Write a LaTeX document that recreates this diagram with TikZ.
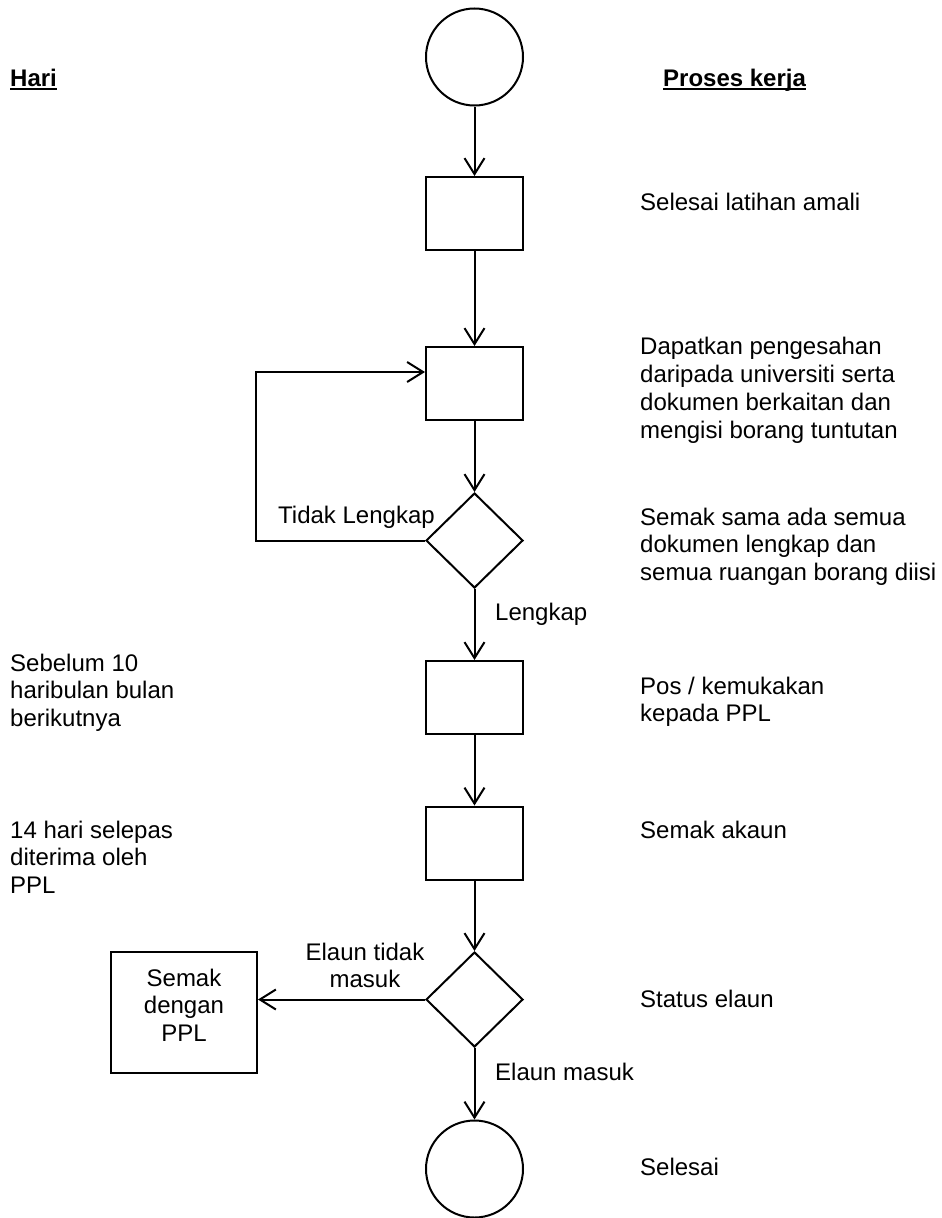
\documentclass[tikz,border=0pt]{standalone}
\usepackage{fontspec}
\setmainfont{Liberation Sans}
\usetikzlibrary{arrows.meta,shapes.geometric}
\newcommand\myul[1]{\setbox0\hbox{#1}\rlap{\rule[-3.5pt]{\wd0}{1.8pt}}\box0}
\tikzset{
  every node/.style={inner sep=0pt},
  lbl/.style={font=\fontsize{24}{27.7}\selectfont, align=left, anchor=base west},
  stepbox/.style={draw, line width=2pt, rectangle, minimum width=97pt, minimum height=73pt},
  decide/.style={draw, line width=2pt, diamond, minimum width=97pt, minimum height=95pt},
  term/.style={draw, line width=2pt, circle, minimum size=97pt},
  arr/.style={line width=2pt, -{Straight Barb[length=16pt,width=20pt]}}
}
\begin{document}
\begin{tikzpicture}[x=1pt,y=-1pt]
\useasboundingbox (0,0) rectangle (942,1218);
% headings
\node[lbl, font=\fontsize{24}{27.7}\selectfont\bfseries] (hari) at (10,86) {\myul{Hari}};
\node[lbl, font=\fontsize{24}{27.7}\selectfont\bfseries] (proses) at (663,86) {\myul{Proses kerja}};
% flow nodes
\node[term] (start) at (474.5,57) {};
\node[stepbox] (b1) at (474.5,213.5) {};
\node[stepbox] (b2) at (474.5,383.5) {};
\node[decide] (d1) at (474.5,540.5) {};
\node[stepbox] (b3) at (474.5,697.5) {};
\node[stepbox] (b4) at (474.5,843) {};
\node[decide] (d2) at (474.5,999.5) {};
\node[term] (stop) at (474.5,1169) {};
\node[draw, line width=2pt, rectangle, minimum width=146pt, minimum height=121pt] (ppl) at (184,1012.5) {};
\node[font=\fontsize{24}{27.7}\selectfont, align=center] (ppltext) at ([yshift=7.5pt]ppl.center) {Semak\\dengan\\PPL};
% connectors
\draw[arr] (start) -- (b1);
\draw[arr] (b1) -- (b2);
\draw[arr] (b2) -- (d1);
\draw[arr] (d1) -- (b3);
\draw[arr] (b3) -- (b4);
\draw[arr] (b4) -- (d2);
\draw[arr] (d2) -- (stop);
\coordinate (loopA) at (256,540.5);
\coordinate (loopB) at (256,372);
\draw[arr] (d1.west) -- (loopA) -- (loopB) -- (b2.west |- loopB);
\draw[arr] (d2.west) -- (ppl.east |- d2.west);
% edge labels
\node[lbl] (tl) at (278,523) {Tidak Lengkap};
\node[lbl] (lk) at (495,620) {Lengkap};
\node[lbl] (em) at (495,1080) {Elaun masuk};
\node[font=\fontsize{24}{27.7}\selectfont, align=center, anchor=base] (etm) at (365,987.7) {Elaun tidak\\masuk};
% right column (anchor = baseline of last line)
\node[lbl] (t1) at (640,210) {Selesai latihan amali};
\node[lbl] (t2) at (640,438) {Dapatkan pengesahan\\daripada universiti serta\\dokumen berkaitan dan\\mengisi borang tuntutan};
\node[lbl] (t3) at (640,580.4) {Semak sama ada semua\\dokumen lengkap dan\\semua ruangan borang diisi};
\node[lbl] (t4) at (640,721.7) {Pos / kemukakan\\kepada PPL};
\node[lbl] (t5) at (640,838) {Semak akaun};
\node[lbl] (t6) at (640,1007) {Status elaun};
\node[lbl] (t7) at (640,1175) {Selesai};
% left column
\node[lbl] (h1) at (10,726.4) {Sebelum 10\\haribulan bulan\\berikutnya};
\node[lbl] (h2) at (10,893.4) {14 hari selepas\\diterima oleh\\PPL};
\end{tikzpicture}
\end{document}
